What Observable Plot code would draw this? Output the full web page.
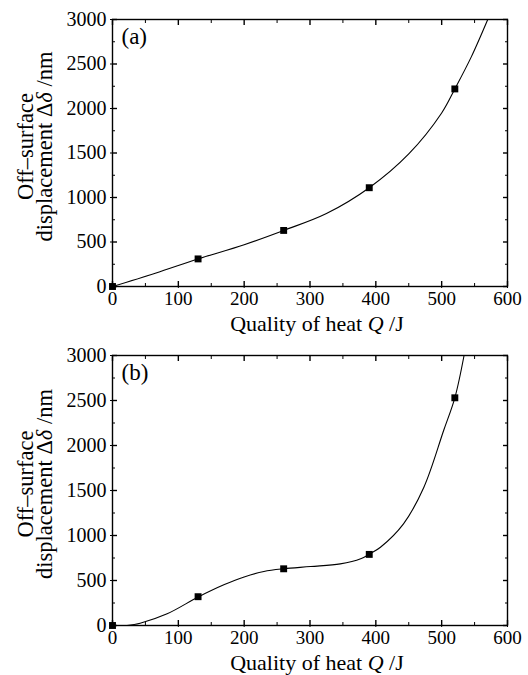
<!DOCTYPE html>
<html>
<head>
<meta charset="utf-8">
<script src="https://cdn.jsdelivr.net/npm/d3@7"></script>
<script src="https://cdn.jsdelivr.net/npm/@observablehq/plot@0.6"></script>
<style>
  html, body { margin: 0; padding: 0; background: #fff; }
  #chart { width: 528px; }
  #chart svg { display: block; }
  #chart svg text { font-family: "Liberation Serif", "DejaVu Serif", serif !important; }
</style>
</head>
<body>
<div id="chart"></div>
<script>
// ---- data ----
const xTicks = [0, 100, 200, 300, 400, 500, 600];
const xMinor = [50, 150, 250, 350, 450, 550];
const yTicks = [0, 500, 1000, 1500, 2000, 2500, 3000];
const yMinor = [250, 750, 1250, 1750, 2250, 2750];

// panel (a): measured points
const qA = [0, 130, 260, 390, 520];
const dA = [0, 310, 630, 1110, 2220];
// panel (a): fitted curve
const curveQA = [0, 65, 130, 200, 260, 325, 390, 450, 500, 520, 545, 570];
const curveDA = [0, 150, 310, 470, 630, 820, 1110, 1490, 1950, 2220, 2580, 3000];

// panel (b): measured points
const qB = [0, 130, 260, 390, 520];
const dB = [0, 320, 630, 790, 2530];
// panel (b): fitted curve
const curveQB = [22, 42, 83, 131, 170, 200, 230, 260, 301, 346, 377, 390, 407, 442, 473, 503, 520, 534];
const curveDB = [0, 26, 130, 320, 455, 540, 600, 630, 655, 685, 741, 792, 870, 1130, 1537, 2167, 2530, 3000];

const panelLabels = ["(a)", "(b)"];
const FONT = "Liberation Serif, DejaVu Serif, serif";

function panel(q, d, cq, cd, tag, height, marginTop, marginBottom) {
  const pts = q.map((v, i) => ({q: v, d: d[i]}));
  const curve = cq.map((v, i) => ({q: v, d: cd[i]}));
  const svg = Plot.plot({
    width: 528,
    height,
    marginLeft: 112,
    marginRight: 21,
    marginTop,
    marginBottom,
    style: {fontFamily: FONT, fontSize: "19px", color: "#000", background: "#fff"},
    x: {domain: [0, 600], label: null},
    y: {domain: [0, 3000], label: null},
    marks: [
      Plot.frame({stroke: "#000", strokeWidth: 1.4}),
      // inward major/minor ticks on all four sides
      Plot.axisX({anchor: "bottom", ticks: xTicks, tickSize: -5, text: null, label: null, strokeWidth: 1.4}),
      Plot.axisX({anchor: "top", ticks: xTicks, tickSize: -5, text: null, label: null, strokeWidth: 1.4}),
      Plot.axisX({anchor: "bottom", ticks: xMinor, tickSize: -3, text: null, label: null}),
      Plot.axisX({anchor: "top", ticks: xMinor, tickSize: -3, text: null, label: null}),
      Plot.axisY({anchor: "left", ticks: yTicks, tickSize: -5, text: null, label: null, strokeWidth: 1.4}),
      Plot.axisY({anchor: "right", ticks: yTicks, tickSize: -5, text: null, label: null, strokeWidth: 1.4}),
      Plot.axisY({anchor: "left", ticks: yMinor, tickSize: -3, text: null, label: null}),
      Plot.axisY({anchor: "right", ticks: yMinor, tickSize: -3, text: null, label: null}),
      // small outward ticks + labels
      Plot.axisX({anchor: "bottom", ticks: xTicks, tickFormat: v => String(v), tickSize: 2, tickPadding: 3, label: null, fontSize: 19}),
      Plot.axisY({anchor: "left", ticks: yTicks, tickFormat: v => String(v), tickSize: 2, tickPadding: 4, label: null, fontSize: 20}),
      Plot.line(curve, {x: "q", y: "d", curve: "catmull-rom", stroke: "#000", strokeWidth: 1.1, clip: true}),
      Plot.dot(pts, {x: "q", y: "d", symbol: "square", r: 3.9, fill: "#000", stroke: "none"}),
      Plot.text([tag], {frameAnchor: "top-left", dx: 9, dy: 8, text: d => d, fontSize: 23, textAnchor: "start", lineAnchor: "top"})
    ]
  });
  const s = d3.select(svg);
  const top = marginTop, bottom = height - marginBottom;
  const cy = (top + bottom) / 2 - 6;
  // y-axis label (two lines, rotated)
  const yl = s.append("text")
    .attr("transform", `translate(33,${cy}) rotate(-90)`)
    .attr("text-anchor", "middle")
    .attr("font-size", 22.5).attr("fill", "#000");
  yl.text("Off–surface");
  const yl2 = s.append("text")
    .attr("transform", `translate(52,${cy}) rotate(-90)`)
    .attr("text-anchor", "middle")
    .attr("font-size", 22.5).attr("fill", "#000");
  yl2.append("tspan").text("displacement Δ");
  yl2.append("tspan").attr("font-style", "italic").text("δ");
  yl2.append("tspan").text(" /nm");
  // x-axis label
  const xl = s.append("text")
    .attr("x", 317).attr("y", bottom + 45)
    .attr("text-anchor", "middle")
    .attr("font-size", 22).attr("fill", "#000");
  xl.append("tspan").text("Quality of heat ");
  xl.append("tspan").attr("font-style", "italic").text("Q");
  xl.append("tspan").text(" /J");
  return svg;
}

const chart = document.getElementById("chart");
chart.appendChild(panel(qA, dA, curveQA, curveDA, panelLabels[0], 337, 19, 51));
chart.appendChild(panel(qB, dB, curveQB, curveDB, panelLabels[1], 338, 18, 50));
</script>
</body>
</html>
